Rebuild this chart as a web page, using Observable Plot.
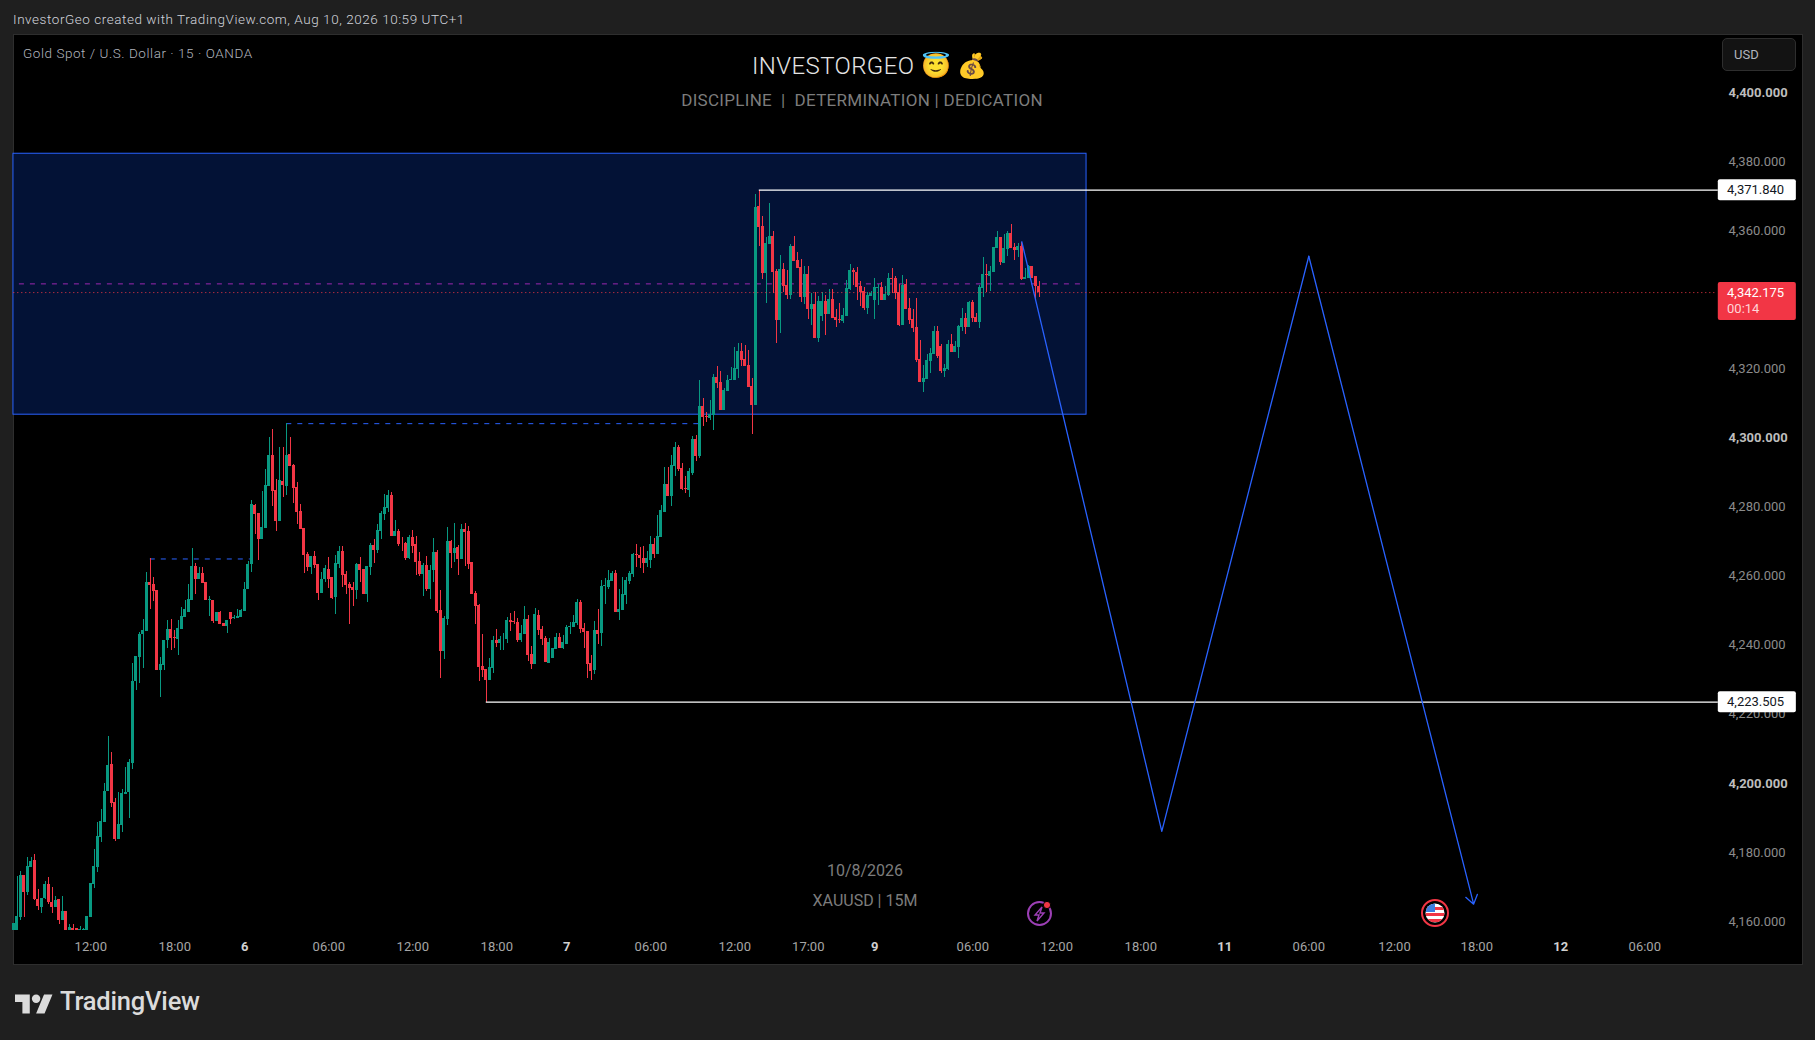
<!DOCTYPE html>
<html><head><meta charset="utf-8">
<script src="https://cdn.jsdelivr.net/npm/d3@7"></script>
<script src="https://cdn.jsdelivr.net/npm/@observablehq/plot@0.6"></script>
<style>
html,body{margin:0;padding:0;width:1815px;height:1040px;background:#1f1f1f;overflow:hidden;font-family:Roboto,"Noto Sans",sans-serif}
#pane{position:absolute;left:13px;top:34px;width:1788px;height:929px;background:#000;border:1px solid #2e2e2e;box-sizing:content-box}
#chart{position:absolute;left:0;top:0}
.t{position:absolute;white-space:pre;line-height:1}
.c{transform:translateX(-50%)}
#usd{position:absolute;left:1722px;top:38px;width:74px;height:33px;box-sizing:border-box;background:#131313;border:1px solid #2e2e2e;border-radius:5px;color:#b2b5be;font-size:13px;line-height:31px;padding-left:11px}
svg.over{position:absolute;overflow:visible}
</style></head><body>
<div id="pane"></div>
<div id="chart"></div>
<div class="t" style="left:13px;top:13px;font-size:13.5px;letter-spacing:.55px;color:#d1d4dc;font-weight:300">InvestorGeo created with TradingView.com, Aug 10, 2026 10:59 UTC+1</div>
<div class="t" style="left:23px;top:47px;font-size:13.5px;letter-spacing:.55px;color:#b2b5be;font-weight:300">Gold Spot / U.S. Dollar · 15 · OANDA</div>
<div class="t" id="brand" style="left:752px;top:54px;font-size:24px;color:#e4e4e4;font-weight:300;letter-spacing:.4px">INVESTORGEO 😇 💰</div>
<div class="t c" style="left:862px;top:92px;font-size:17px;color:#7c7c7c;letter-spacing:.3px">DISCIPLINE  |  DETERMINATION | DEDICATION</div>
<div class="t c" style="left:865px;top:863px;font-size:16px;color:#7c7c7c">10/8/2026</div>
<div class="t c" style="left:865px;top:893px;font-size:16px;color:#7c7c7c">XAUUSD | 15M</div>
<div id="usd">USD</div>
<svg class="over" style="left:15px;top:990px" width="38" height="24" viewBox="0 0 36 22"><path fill="#dbdbdb" d="M14 22H7V11H0V4h14v18zM28 22h-8l7.5-18h8L28 22z"/><circle fill="#dbdbdb" cx="20" cy="8" r="4"/></svg>
<div class="t" style="left:60px;top:989px;font-size:25.5px;font-weight:500;color:#dbdbdb;letter-spacing:-.2px">TradingView</div>
<svg class="over" style="left:1026px;top:900px" width="28" height="28" viewBox="0 0 28 28"><circle cx="13.5" cy="13.5" r="11.5" fill="none" stroke="#9c3fb5" stroke-width="2"/><path d="M16 7l-7 8h4l-2 6 7-8h-4z" fill="none" stroke="#9c3fb5" stroke-width="1.4"/><circle cx="21" cy="5" r="3.6" fill="#f23645" stroke="#000"/></svg>
<svg class="over" style="left:1421px;top:899px" width="28" height="28" viewBox="0 0 28 28"><defs><clipPath id="fl"><circle cx="14" cy="14" r="9.5"/></clipPath></defs><circle cx="14" cy="14" r="13" fill="#000" stroke="#f23645" stroke-width="2"/><g clip-path="url(#fl)"><rect x="3" y="3" width="22" height="22" fill="#fff"/><rect x="3" y="8" width="22" height="3" fill="#f23645"/><rect x="3" y="14" width="22" height="3" fill="#f23645"/><rect x="3" y="20" width="22" height="3" fill="#f23645"/><rect x="3" y="3" width="11" height="10" fill="#3d7fe0"/></g></svg>
<script>
// Candles: [open, high, low, close]
const sessionThursday = [
[4157.5,4159.4,4157.5,4159.4],[4157.5,4173,4157.5,4161.4],[4161,4174.4,4160.4,4173.2],[4173.2,4173.4,4161.2,4168.4],[4168.4,4178.4,4167.4,4175.9],
[4175.7,4178.4,4175.5,4177.4],[4177.7,4179.4,4166,4166.2],[4166.2,4169.2,4163.2,4164.2],[4164,4166.7,4162.4,4166.5],[4166.5,4171.7,4166.2,4170.7],
[4170.7,4172.7,4165,4165.4],[4165.4,4169.7,4162.2,4164],[4164,4167.2,4164,4166],[4166.2,4166.4,4159.2,4160.4],[4160.4,4167.2,4160.2,4162.9],
[4162.9,4162.9,4157.5,4157.5],[4157.5,4159,4157.5,4158.2],[4158,4159,4157.5,4157.5],[4158,4158,4157.5,4157.5],[4157.5,4158.4,4157.5,4157.7],
[4157.5,4157.8,4157.5,4157.6],[4157.5,4161.4,4157.5,4161.4],[4161,4171,4161,4171],[4170.7,4180.9,4169.5,4175.9],[4175.6,4188.7,4174.2,4184.6],
[4184.4,4192.5,4182.9,4189],[4188.7,4200,4188.7,4197.7],[4197.5,4213.6,4197.5,4205.3],[4205.5,4209,4192.9,4194.2],[4194.4,4195.6,4183.2,4183.7],
[4183.7,4197.2,4183.7,4188],[4187.9,4198.2,4185.7,4197],[4196.9,4204.7,4196.7,4197.2],[4197.2,4207,4189.7,4206],[4205.7,4234.8,4203.9,4229.4],
[4229.4,4236.8,4226.8,4236.8],[4236.6,4243.6,4228.8,4243.1],[4243.1,4247.4,4233.3,4244.3],[4244.1,4261,4244.1,4258.2],[4258.2,4265.2,4250.3,4257.2],
[4257.6,4259.5,4252.6,4255.7],[4255.9,4255.9,4232.6,4232.6],[4232.6,4236.4,4225,4234.4],[4234.1,4241.4,4232.8,4241.4],[4241.3,4247.1,4239.1,4244.5],
[4244.5,4247.4,4238.6,4241.9],[4242.3,4244.4,4239.1,4242],[4241.7,4247.1,4237.1,4244.8],[4244.6,4250.9,4244.6,4248.3],[4248.1,4253.1,4248.1,4250.3],
[4249.6,4257.5,4249.6,4253.3],[4253.1,4268,4253.1,4262.8],[4262.8,4263.7,4254.8,4259],[4259,4262.5,4259,4260.8],[4260.8,4262.5,4258,4258],
[4258.2,4258.2,4252.9,4252.9],[4253.1,4254,4248.4,4253.3],[4253,4253,4246.4,4246.9],[4246.9,4249.4,4246.9,4249.4],[4249.4,4249.9,4246.1,4246.1],
[4246.3,4246.3,4245.3,4245.3],[4245.3,4247.3,4243.3,4247.3],[4249.6,4249.6,4245.9,4247.4],[4247.7,4248.6,4247.4,4247.9],[4247.8,4250.3,4247.8,4248.3],
[4248.1,4250.3,4248.1,4250.1]];
const sessionFriday = [
[4249.9,4258.2,4249.9,4256.3],[4256.1,4264.3,4256.1,4263.4],[4263.5,4282,4261.2,4280.8],[4280.5,4280.7,4272.2,4277.9],[4278.2,4278.2,4264.6,4270.7],
[4270.7,4284.6,4270.7,4274.2],[4273.9,4290.9,4273.9,4286.3],[4286.1,4300.2,4286.1,4295],[4295,4302.5,4280.3,4284.6],[4284.9,4288.1,4273,4275.9],
[4275.9,4297.3,4275.9,4287.8],[4287.5,4297.3,4282.9,4286.3],[4286.1,4304.2,4283.4,4295],[4295.3,4300.2,4291.8,4291.8],[4292.1,4292.4,4281.1,4285.5],
[4285.8,4287.2,4275,4278.5],[4278.8,4280.8,4273.6,4273.6],[4273.9,4273.9,4260.9,4266.1],[4266.4,4267,4261.4,4262.6],[4262.6,4265.8,4260.6,4265.8],
[4265.8,4267.2,4262.3,4263.2],[4263.5,4263.5,4253,4255.1],[4255.1,4261.2,4255.1,4259.1],[4259.1,4263.2,4258.3,4262.3],[4262,4265.5,4256.5,4259.1],
[4259.7,4259.7,4253.3,4253.6],[4253.9,4266.1,4249,4263.8],[4263.5,4268.7,4262.3,4267.2],[4267.2,4268.7,4256.8,4260.3],[4260.6,4261.4,4254.8,4257.4],
[4257.7,4258.3,4246,4256.5],[4256.8,4258.3,4251.3,4256],[4256,4263.8,4253.3,4263.5],[4263.5,4265.5,4258.3,4261.7],[4262,4262,4254.8,4254.8],
[4254.8,4262.9,4252.5,4262.9],[4262.6,4269.5,4260.3,4269],[4269,4270.7,4263.8,4267.5],[4267.5,4275,4266.6,4273.3],[4273,4278.8,4270.7,4278.2],
[4277.9,4283.7,4276.2,4280],[4279.7,4284.9,4278.5,4283.4],[4283.4,4284.3,4271.6,4271.6],[4271.6,4276.2,4271.6,4273],[4273,4273.6,4268.7,4269.3],
[4269.6,4271.1,4267.2,4269.4],[4269.6,4269.8,4264.6,4265.2],[4265.2,4271.7,4264.9,4271.1],[4271.1,4273.3,4266.7,4268.7],[4269.3,4271.6,4260.3,4264],
[4264.3,4266.9,4260,4260.6],[4260.6,4263.8,4254.2,4263.2],[4263.2,4265.8,4255.7,4256.2],[4256.2,4263.2,4253.3,4261.7],[4261.7,4271,4258.3,4266.9],
[4266.9,4267.5,4249.3,4249.9],[4250.2,4255.9,4230.5,4238.3],[4238.3,4248.4,4236,4247.8],[4247.5,4274.2,4245.8,4270.1],[4270.1,4270.4,4262.3,4266.7],
[4266.7,4275.3,4264,4268.1],[4268.4,4269,4260.3,4264.9],[4264.9,4275.1,4264.9,4273.6],[4273.6,4275.3,4262.9,4272.7],[4273,4274.5,4262,4263.5],
[4264,4264,4254.8,4254.8],[4255.1,4255.7,4246.1,4251.3],[4251.6,4251.9,4229.6,4233.7],[4233.9,4243.2,4230.8,4232.8],[4233.1,4233.1,4223.505,4229.9],
[4229.9,4236.3,4229.9,4233.7],[4233.4,4242.6,4231.9,4241.5],[4241.5,4244.7,4239.4,4240.6],[4240.6,4242.6,4238.6,4241.8],[4241.9,4243.5,4238.6,4242],
[4241.8,4248.1,4240.6,4247.3],[4247.3,4249.3,4244.1,4246.7],[4246.9,4249.9,4246.1,4246.7],[4246.7,4247.8,4240.9,4241.5],[4241.5,4245.8,4240.9,4243.5],
[4243.2,4251.3,4243.2,4247.5],[4247.5,4248.7,4235.4,4237.1],[4237.4,4239.7,4233.1,4234.5],[4234.5,4250.7,4234.5,4249],[4248.7,4250.2,4242.9,4244.4],
[4244.7,4245.5,4240,4241.8],[4242,4242.6,4235.1,4235.1],[4234.8,4242,4234.8,4240.9],[4236.3,4239.2,4236.3,4239.2],[4238.9,4243.5,4238.9,4242.3],
[4242.3,4243.5,4239.2,4239.2],[4239.2,4242.9,4238.9,4240.9]];
const sessionMonday = [
[4240.3,4245.8,4240.3,4245.2],[4245.2,4246.7,4243.2,4245.4],[4245.2,4248.7,4245.2,4246.7],[4246.4,4253.3,4245.8,4252.5],[4252.5,4253,4243.5,4244.7],
[4244.9,4246.4,4239.2,4243.8],[4244.1,4244.1,4230.5,4234.5],[4234.8,4237.1,4229.9,4232.5],[4232.8,4247,4231.6,4244.4],[4244.4,4250.4,4240.3,4243.2],
[4243.3,4258.9,4239.5,4256.9],[4257,4259.4,4251.9,4257.2],[4256.6,4261.8,4256.3,4258.9],[4258.6,4261.5,4258.6,4260.9],[4260.9,4261.8,4249.6,4249.6],
[4249.6,4256.3,4247.3,4250.5],[4250.2,4259.5,4250.2,4254.8],[4254.5,4259.5,4251.9,4258.9],[4258.6,4261.5,4257.7,4260.9],[4260.6,4266.7,4259.5,4266.4],
[4266.4,4269.3,4262.4,4266.1],[4266.1,4268.4,4262.1,4265],[4265,4268.7,4260.9,4263.8],[4263.8,4267.3,4262.4,4265],[4264.7,4271.6,4262.1,4269.3],
[4269.3,4270.8,4265,4266.4],[4266.4,4277.7,4266.4,4271.6],[4271.3,4280.6,4271.3,4278.9],[4278.6,4291.6,4278.6,4286.7],[4286.7,4291.6,4283.2,4283.2],
[4283.2,4295.1,4280.3,4292.2],[4291.9,4298.8,4289,4297.4],[4297.4,4298,4290.4,4291],[4291.3,4292.8,4284.7,4285.2],[4285.5,4289,4284.1,4285.2],
[4284.9,4291.3,4282.9,4290.2],[4289.9,4300.6,4289.3,4299.7],[4299.7,4300.9,4293.3,4294.8],[4294.8,4316.8,4294.2,4309.3],[4309.2,4311.6,4303.4,4306],
[4306.3,4307.5,4304.6,4306.1],[4305.8,4311,4305,4306.8],[4306.6,4318.5,4302.3,4317.6],[4317.6,4320.8,4314.4,4315.9],[4316.2,4319.4,4308.1,4308.1],
[4308.1,4314.4,4308.1,4313.9],[4313.6,4318.2,4313.6,4316.8],[4316.8,4320.5,4316.8,4317],[4316.8,4326.3,4316.8,4320.2],[4319.9,4327.5,4317.3,4325.2],
[4325.2,4327.5,4320.8,4322.6],[4322.9,4326.9,4320.8,4320.8],[4321.1,4325.5,4314.7,4314.7],[4315,4317.3,4301.1,4309.5],[4309.5,4370.6,4309.5,4366.9],
[4367.1,4371.84,4355.6,4361.1],[4361.3,4364.2,4346,4347.7],[4347.7,4358.2,4339,4356.4],[4356.1,4368,4356.1,4358.5],[4358.5,4359.9,4342,4348],
[4348.3,4348.9,4327.5,4334.1],[4334.1,4352.9,4330.4,4348.9],[4348.9,4350.6,4342.2,4344],[4344.3,4348.6,4340.2,4341.4],[4341.4,4356.1,4340.2,4355.6],
[4355.6,4358.5,4351.2,4351.2],[4351.5,4353.8,4349.2,4349.2],[4349.5,4351.8,4339.3,4340.8],[4340.8,4349.8,4338.8,4347.5]];
const sessionTuesday = [
[4347.5,4349.8,4334.4,4337.3],[4337.3,4342,4332.7,4338.8],[4338.8,4342.2,4328.9,4328.9],[4328.9,4341.1,4327.8,4339.6],[4335.3,4342.2,4333.8,4339.6],
[4339.6,4341.4,4329.8,4335.9],[4335.9,4343.1,4335.9,4340.2],[4340.2,4343.1,4334.7,4334.7],[4335,4337.3,4332.1,4334.1],[4334.4,4339,4333.3,4334.2],
[4333.8,4337.6,4333.3,4335.6],[4335.3,4345.7,4335.3,4343.4],[4343.1,4350.3,4342.8,4348.6],[4348.6,4349.2,4344.3,4348],[4348,4349.5,4339.9,4343.7],
[4344,4345.4,4338.2,4342.2],[4342.5,4343.7,4337,4337.6],[4337.6,4342.2,4335.9,4341.4],[4341.1,4342.5,4341.1,4342],[4339.9,4346.3,4334.4,4343.7],
[4343.5,4344.6,4338.5,4343.7],[4343.7,4345.1,4339.9,4339.9],[4339.9,4344,4339.9,4341.7],[4341.4,4347.7,4341.1,4346.3],[4346.3,4349.2,4342,4346],
[4346.3,4346.9,4340.2,4342],[4342.2,4344.6,4332.4,4332.7],[4332.7,4347.2,4332.7,4344.3],[4344.6,4346,4337.3,4337.3],[4337.6,4340.4,4333,4334.1],
[4334.4,4337.3,4330.7,4331.8],[4332.1,4340.5,4322,4322.6],[4322.9,4328.3,4316.2,4316.2],[4316.2,4321.1,4313.3,4317.3],[4317.1,4324.3,4317.1,4322.6],
[4322.3,4326,4318.8,4324.6],[4324.3,4332.4,4324.3,4331],[4331,4332.4,4323.1,4323.7],[4326.6,4327.2,4318.8,4319.4],[4319.4,4321.4,4317.6,4320.2],
[4319.9,4328.3,4319.7,4327.2],[4327.2,4330.1,4324.9,4324.9],[4324.9,4328.1,4324.9,4326.6],[4326.3,4332.7,4323.1,4332.4],[4332.1,4337.6,4331,4334.7],
[4334.7,4336.2,4330.1,4332.1],[4332.1,4339.6,4332.1,4339.3],[4339.3,4339.9,4333.6,4334.7],[4335,4336.2,4333.6,4333.6],[4333.6,4344.3,4331.8,4343.7],
[4343.4,4352.4,4340.8,4347.5],[4347.5,4350.3,4342.2,4347.2],[4346.9,4349.8,4342.5,4348.3],[4348,4355.3,4348,4355.3],[4355,4359.9,4355,4358.2],
[4358.2,4358.2,4350,4350.9],[4350.7,4359,4350.7,4355],[4354.7,4359.9,4352.7,4359.3],[4359.3,4361.9,4355,4355],[4355.3,4356.4,4351.5,4354.4],
[4354.4,4356.4,4352.4,4355.6],[4355.6,4356.7,4345.7,4346],[4346,4349.2,4346,4346.6],[4346.3,4350,4346.3,4349.8],[4349.8,4349.8,4346.3,4346.3],
[4346.9,4346.9,4340.2,4344],[4344,4345.4,4340.8,4342.175]];

const yTicks = [4160,4180,4220,4240,4260,4280,4320,4340,4360,4380];
const yTicksMajor = [4200,4300,4400];
const hourTickIndex = [22,46,90,114,138,182,206,227,274,298,322,370,394.5,418,466];
const hourTickLabels = ["12:00","18:00","06:00","12:00","18:00","06:00","12:00","17:00","06:00","12:00","18:00","06:00","12:00","18:00","06:00"];
const dayTickIndex = [66,158,246,346,442];
const dayTickLabels = ["6","7","9","11","12"];
const zone = [{x1:-0.1,x2:306.5,y1:4306.8,y2:4382.4}];
const pivotLows = [{x1:135,x2:487,y:4223.505}];
const pivotHighs = [{x1:213,x2:487,y:4371.84}];
const brokenHighs = [{x1:39,x2:67.6,y:4265},{x1:78,x2:196,y:4304.2}];
const zigzagIndex = [288,328,370];
const zigzagPrice = [4356.9,4186.1,4352.7];
const arrowEnd = {x:417.1,y:4165};
const midLine = {x1:1.6,x2:306.5,y:4344.7};
const lastPrice = 4342.175;
const priceTags = [{y:4371.84,label:"4,371.840",d:3.05,fill:"#fff",text:"#131722"},{y:4223.505,label:"4,223.505",d:3.05,fill:"#fff",text:"#131722"}];

const bars = [...sessionThursday,...sessionFriday,...sessionMonday,...sessionTuesday].map(([o,h,l,c],i)=>({i,o,h,l,c}));
const up="#089981",down="#f23645",blue="#2962ff";
const col=d=>d.c>=d.o?up:down;
const fnt="Roboto, 'Noto Sans', sans-serif";

const chart = Plot.plot({
  width:1815,height:1040,marginTop:34,marginBottom:102,marginLeft:13,marginRight:93,
  x:{type:"linear",domain:[0,511],range:[13.3,13.3+511*3.5]},
  y:{type:"linear",domain:[4160,4400],range:[920.9,92.5]},
  style:{background:"transparent",fontFamily:fnt},
  marks:[
    Plot.rect(zone,{x1:"x1",x2:"x2",y1:"y1",y2:"y2",fill:"#031236",stroke:blue,strokeWidth:1}),
    Plot.ruleY([midLine],{x1:"x1",x2:"x2",y:"y",stroke:"#9c27b0",strokeWidth:1,strokeDasharray:"5,6"}),
    Plot.ruleY(brokenHighs,{x1:"x1",x2:"x2",y:"y",stroke:blue,strokeWidth:1,strokeDasharray:"5,6"}),
    Plot.ruleX(bars,{x:"i",y1:"l",y2:"h",stroke:col,strokeWidth:1,shapeRendering:"crispEdges"}),
    Plot.rect(bars,{x1:d=>d.i-0.45,x2:d=>d.i+0.45,y1:"o",y2:"c",fill:col,shapeRendering:"crispEdges"}),
    Plot.ruleY([lastPrice],{x1:0,x2:486,stroke:down,strokeWidth:1,strokeDasharray:"1,3"}),
    Plot.ruleY(pivotHighs,{x1:"x1",x2:"x2",y:"y",stroke:"#fff",strokeWidth:1.2}),
    Plot.ruleY(pivotLows,{x1:"x1",x2:"x2",y:"y",stroke:"#fff",strokeWidth:1.2}),
    Plot.line(zigzagIndex.map((x,k)=>({x,y:zigzagPrice[k]})),{x:"x",y:"y",stroke:blue,strokeWidth:1.3}),
    Plot.arrow([{x1:zigzagIndex[2],y1:zigzagPrice[2],x2:arrowEnd.x,y2:arrowEnd.y}],{x1:"x1",y1:"y1",x2:"x2",y2:"y2",stroke:blue,strokeWidth:1.3,bend:0,headLength:12,headAngle:70}),
    Plot.axisY({anchor:"right",ticks:yTicks,tickSize:0,tickPadding:6,label:null,tickFormat:d3.format(",.3f"),color:"#8b8b8b",fontSize:13,textAnchor:"start"}),
    Plot.axisY({anchor:"right",ticks:yTicksMajor,tickSize:0,tickPadding:6,label:null,tickFormat:d3.format(",.3f"),color:"#bdbdbd",fontSize:13,fontWeight:700,textAnchor:"start"}),
    Plot.axisX({anchor:"bottom",ticks:hourTickIndex,tickSize:0,tickPadding:3,label:null,tickFormat:d=>hourTickLabels[hourTickIndex.indexOf(d)],color:"#a6a6a6",fontSize:13}),
    Plot.axisX({anchor:"bottom",ticks:dayTickIndex,tickSize:0,tickPadding:3,label:null,tickFormat:d=>dayTickLabels[dayTickIndex.indexOf(d)],color:"#d0d0d0",fontSize:13,fontWeight:700}),
    Plot.rect(priceTags,{x1:487,x2:509.3,y1:d=>d.y-d.d,y2:d=>d.y+d.d,fill:"fill",r:2}),
    Plot.text(priceTags,{x:489.5,y:"y",text:"label",fill:"text",textAnchor:"start",fontSize:13}),
    Plot.rect([lastPrice],{x1:487,x2:509.3,y1:d=>d-8.1,y2:d=>d+2.9,fill:down,r:2}),
    Plot.text([lastPrice],{x:489.5,y:d=>d,text:d=>d3.format(",.3f")(d),fill:"#fff",textAnchor:"start",fontSize:13}),
    Plot.text([lastPrice],{x:489.5,y:d=>d-4.6,text:()=>"00:14",fill:"#ffd5d8",textAnchor:"start",fontSize:13})
  ]
});
document.getElementById("chart").appendChild(chart);
</script>
</body></html>
